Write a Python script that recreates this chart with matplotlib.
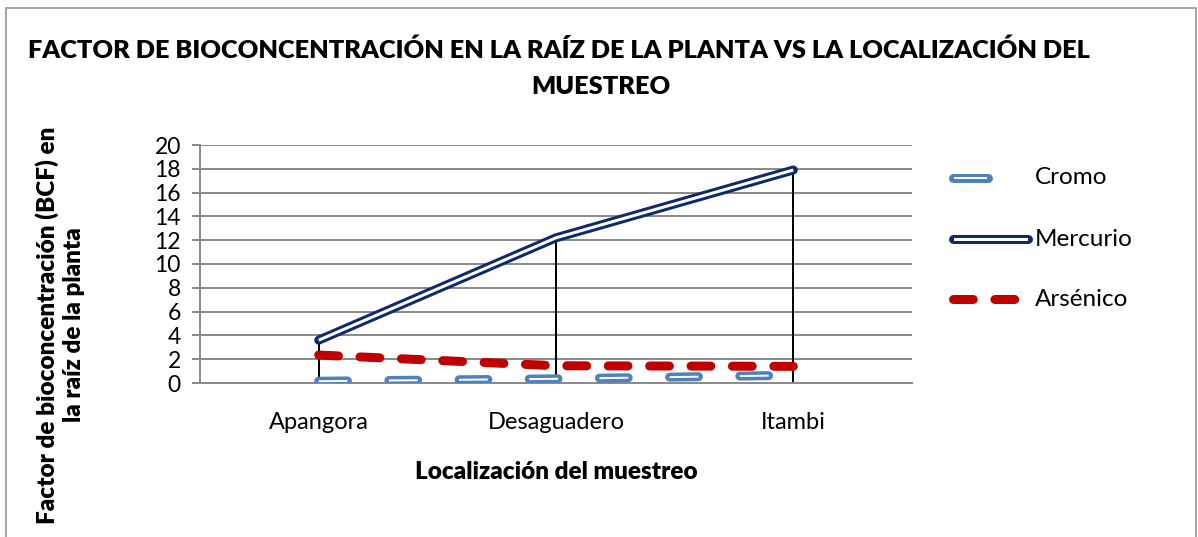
import matplotlib
matplotlib.use("Agg")
import matplotlib.pyplot as plt
from matplotlib.lines import Line2D

plt.rcParams['font.family'] = ['Lato', 'DejaVu Sans']

categorias = ['Apangora', 'Desaguadero', 'Itambi']
cromo = [0.15, 0.35, 0.65]
mercurio = [3.6, 12.2, 17.9]
arsenico = [2.35, 1.45, 1.4]
yticks = list(range(0, 21, 2))

px = 0.72  # points per pixel at dpi 100
navy = '#0E2A6B'
azul = '#4F81BD'
rojo = '#C00000'
gris = '#8C8C8C'

fig = plt.figure(figsize=(11.98, 5.37), dpi=100)
ax = fig.add_axes([200/1198, 1 - 383/537, 712/1198, 238/537])

x = list(range(len(categorias)))

# lineas de caida
for xi, m in zip(x, mercurio):
    ax.plot([xi, xi], [0, max(m, arsenico[xi], cromo[xi])], color='black', lw=2*px, zorder=2)

# Arsenico
ax.plot(x, arsenico, color=rojo, lw=9*px, linestyle=(0, (2.2, 2.4)),
        dash_capstyle='round', solid_capstyle='round', zorder=3)
# Cromo (linea doble discontinua)
ax.plot(x, cromo, color=azul, lw=9*px, linestyle=(0, (3.2, 4.6)),
        dash_capstyle='round', zorder=3)
ax.plot(x, cromo, color='white', lw=2*px, linestyle=(0, (14.4, 20.7)),
        dash_capstyle='butt', zorder=4)
# Mercurio (linea doble)
ax.plot(x, mercurio, color=navy, lw=9*px, solid_capstyle='round', zorder=5)
ax.plot(x, mercurio, color='white', lw=3*px, solid_capstyle='butt', zorder=6)

ax.set_xlim(-0.5, 2.5)
ax.set_ylim(0, 20)
ax.set_yticks(yticks)
ax.set_xticks(x)
ax.set_xticklabels(categorias, fontsize=17)
ax.tick_params(axis='y', labelsize=16.5, length=8*px, width=2*px, color=gris, pad=8)
ax.tick_params(axis='x', length=0, pad=21)
ax.grid(axis='y', color=gris, lw=2*px)
ax.set_axisbelow(True)
for s in ['top', 'right']:
    ax.spines[s].set_visible(False)
for s in ['left', 'bottom']:
    ax.spines[s].set_color(gris)
    ax.spines[s].set_linewidth(2*px)

ax.set_xlabel('Localización del muestreo', fontsize=17.5, fontweight='heavy', labelpad=20)
fig.text(60/1198, 1 - 325/537, 'Factor de bioconcentración (BCF) en\nla raíz de la planta',
         rotation=90, ha='center', va='center', fontsize=17.5, fontweight='heavy',
         linespacing=1.25)

fig.text(559/1198, 1 - 50/537, 'FACTOR DE BIOCONCENTRACIÓN EN LA RAÍZ DE LA PLANTA VS LA LOCALIZACIÓN DEL',
         ha='center', va='center', fontsize=18.3, fontweight='heavy')
fig.text(601/1198, 1 - 87/537, 'MUESTREO',
         ha='center', va='center', fontsize=18.3, fontweight='heavy')

# leyenda
def fx(p):
    return p / 1198

def fy(p):
    return 1 - p / 537

fig.add_artist(Line2D([fx(953), fx(988)], [fy(178), fy(178)], color=azul, lw=9*px,
                      solid_capstyle='round'))
fig.add_artist(Line2D([fx(955), fx(986)], [fy(178), fy(178)], color='white', lw=2*px))
fig.text(fx(1035), fy(178), 'Cromo', fontsize=17.5, va='center')

fig.add_artist(Line2D([fx(953), fx(1028)], [fy(239), fy(239)], color=navy, lw=9*px,
                      solid_capstyle='round'))
fig.add_artist(Line2D([fx(955), fx(1026)], [fy(239), fy(239)], color='white', lw=3*px))
fig.text(fx(1035), fy(239), 'Mercurio', fontsize=17.5, va='center')

fig.add_artist(Line2D([fx(953), fx(1020)], [fy(299), fy(299)], color=rojo, lw=9*px,
                      linestyle=(0, (2.2, 2.4)), dash_capstyle='round'))
fig.text(fx(1035), fy(299), 'Arsénico', fontsize=17.5, va='center')

# borde del grafico
bx = [fx(6), fx(6), fx(1196), fx(1196)]
by = [0, fy(8), fy(8), 0]
fig.add_artist(Line2D(bx, by, color='#A6A6A6', lw=2*px))

fig.savefig('out.png', dpi=100)
